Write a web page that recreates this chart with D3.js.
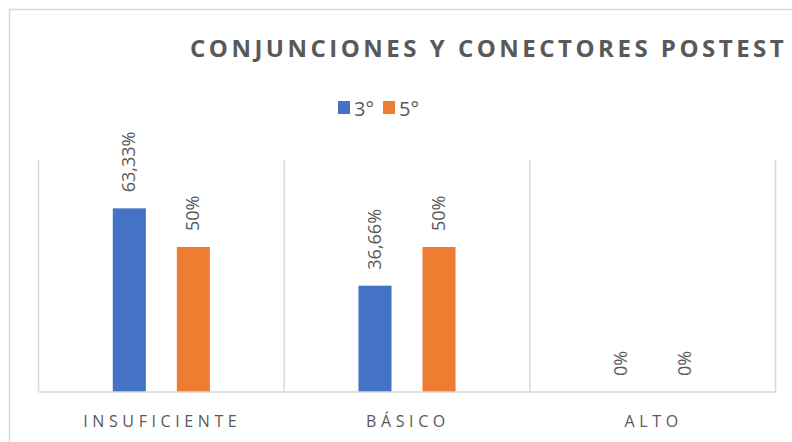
<!DOCTYPE html>
<html>
<head>
<meta charset="utf-8">
<script src="https://cdn.jsdelivr.net/npm/d3@7"></script>
<style>
  body { margin: 0; background: #fff; }
  svg { display: block; font-family: "Open Sans", "Noto Sans", sans-serif; }
</style>
</head>
<body>
<div class="chart"></div>
<script>
// data
const categories = ["INSUFICIENTE", "BÁSICO", "ALTO"];
const seriesNames = ["3°", "5°"];
const values3 = [0.6333, 0.3666, 0];
const values5 = [0.50, 0.50, 0];
const valueLabels3 = ["63,33%", "36,66%", "0%"];
const valueLabels5 = ["50%", "50%", "0%"];
const colors = ["#4472c4", "#ed7d31"];

const W = 792, H = 442;
const plot = {left: 38.5, right: 775.5, top: 160, bottom: 392};

const svg = d3.select(".chart").append("svg")
  .attr("width", W).attr("height", H);

// chart frame (runs off the right/bottom edge like the crop)
svg.append("rect")
  .attr("x", 9.5).attr("y", 9.5)
  .attr("width", 820).attr("height", 460)
  .attr("fill", "#fff").attr("stroke", "#d9d9d9").attr("stroke-width", 1.5);

const rows = categories.map((c, i) => ({
  cat: c,
  vals: [
    {s: 0, v: values3[i], lab: valueLabels3[i]},
    {s: 1, v: values5[i], lab: valueLabels5[i]}
  ]
}));

const x0 = d3.scaleBand().domain(categories).range([plot.left, plot.right]).padding(0);
const x1 = d3.scaleBand().domain([0, 1]).range([0, x0.bandwidth()])
  .paddingInner(0.484).paddingOuter(1.16);
const y = d3.scaleLinear().domain([0, 0.8]).range([plot.bottom, plot.top]);

// category separators
const seps = categories.map(c => x0(c)).concat([plot.right]);
svg.selectAll(".sep").data(seps).enter().append("line")
  .attr("x1", d => d).attr("x2", d => d)
  .attr("y1", plot.top).attr("y2", plot.bottom)
  .attr("stroke", "#d9d9d9").attr("stroke-width", 1.5);

// bars
const g = svg.selectAll(".grp").data(rows).enter().append("g")
  .attr("transform", d => `translate(${x0(d.cat)},0)`);

g.selectAll("rect").data(d => d.vals).enter().append("rect")
  .attr("x", d => x1(d.s))
  .attr("width", x1.bandwidth())
  .attr("y", d => y(d.v))
  .attr("height", d => y(0) - y(d.v))
  .attr("fill", d => colors[d.s]);

g.selectAll(".lab").data(d => d.vals).enter().append("text")
  .attr("transform", d => `translate(${x1(d.s) + x1.bandwidth() / 2 + 6},${y(d.v) - 16}) rotate(-90)`)
  .attr("font-size", 18)
  .attr("fill", "#595959")
  .text(d => d.lab);

// baseline
svg.append("line")
  .attr("x1", plot.left).attr("x2", plot.right)
  .attr("y1", plot.bottom).attr("y2", plot.bottom)
  .attr("stroke", "#d9d9d9").attr("stroke-width", 1.5);

// category axis labels
svg.selectAll(".cat").data(categories).enter().append("text")
  .attr("x", d => x0(d) + x0.bandwidth() / 2 + 1)
  .attr("y", 427)
  .attr("text-anchor", "middle")
  .attr("font-size", 16)
  .attr("letter-spacing", "4.6px")
  .attr("fill", "#595959")
  .text(d => d);

// title
svg.append("text")
  .attr("x", 190).attr("y", 57)
  .attr("font-size", 24)
  .attr("font-weight", "bold")
  .attr("letter-spacing", "3.5px")
  .attr("fill", "#595959")
  .text("CONJUNCIONES Y CONECTORES POSTEST");

// legend
const leg = svg.selectAll(".leg").data(seriesNames).enter().append("g")
  .attr("transform", (d, i) => `translate(${338 + i * 45},0)`);
leg.append("rect")
  .attr("x", 0).attr("y", 101).attr("width", 12).attr("height", 13)
  .attr("fill", (d, i) => colors[i]);
leg.append("text")
  .attr("x", 16).attr("y", 115.5)
  .attr("font-size", 20)
  .attr("fill", "#595959")
  .text(d => d);
</script>
</body>
</html>
